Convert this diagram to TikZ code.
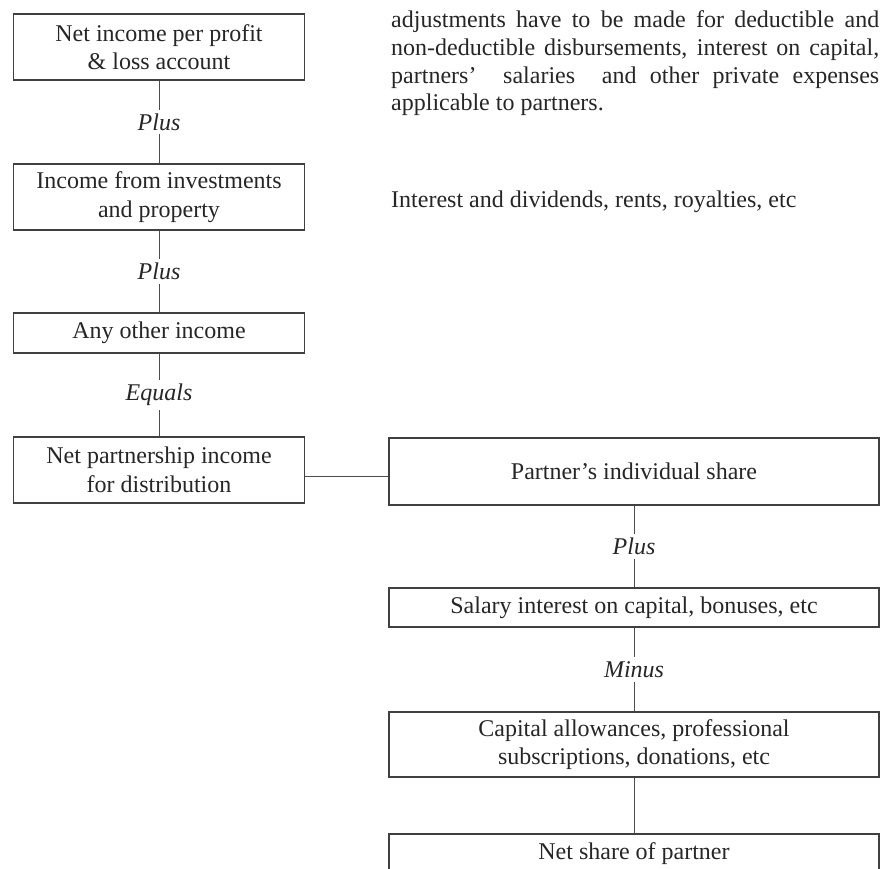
\documentclass[tikz,border=0pt]{standalone}
\usepackage{fontspec}
\setmainfont{Liberation Serif}
\usepackage{tikz}

\begin{document}
\begin{tikzpicture}[x=1pt,y=-1pt,
  box/.style={draw=black!75, line width=1.1pt, align=center, inner sep=0pt,
    text=black!85, font=\fontsize{24}{28.5}\selectfont},
  lbox/.style={box, minimum width=291pt},
  rbox/.style={box, minimum width=490pt},
  link/.style={draw=black!70, line width=1pt},
  op/.style={fill=white, inner sep=4pt, text=black!85,
    font=\fontsize{24}{28}\selectfont\itshape},
  note/.style={inner sep=0pt, text=black!85, font=\fontsize{24}{27.7}\selectfont}]

  \useasboundingbox (0,0) rectangle (880,868);
  \clip (0,0) rectangle (880,868);

  \node[lbox, minimum height=66pt] (netinc) at (159,47) {Net income per profit\\ \& loss account};
  \node[lbox, minimum height=66pt] (invest) at (159,197) {Income from investments\\ and property};
  \node[lbox, minimum height=40pt] (other) at (159,333) {Any other income};
  \node[lbox, minimum height=66pt] (netpart) at (159,470) {Net partnership income\\ for distribution};

  \node[rbox, minimum height=67pt] (share) at (634,471.5) {Partner's individual share};
  \node[rbox, minimum height=39pt] (salary) at (634,607.5) {Salary interest on capital, bonuses, etc};
  \node[rbox, minimum height=65pt] (allow) at (634,744.5) {Capital allowances, professional\\ subscriptions, donations, etc};
  \node[rbox, minimum height=40pt] (netshare) at (634,854) {Net share of partner};

  \node[note, text width=488pt, align=justify, anchor=north west] (adjust) at (391,10.5)
    {adjustments have to be made for deductible and\linebreak
     non-deductible disbursements, interest on capital,\linebreak
     partners'\ \ salaries\ \ and other private expenses\linebreak
     applicable to partners.};
  \node[note, anchor=base west] (incnote) at (391,207) {Interest and dividends, rents, royalties, etc};

  \draw[link] (netinc) -- node[op] {Plus} (invest);
  \draw[link] (invest) -- node[op] {Plus} (other);
  \draw[link] (other) -- node[op] {Equals} (netpart);
  \draw[link] ([yshift=-6pt]netpart.east) -- ([yshift=-6pt]netpart.east -| share.west);
  \draw[link] (share) -- node[op] {Plus} (salary);
  \draw[link] (salary) -- node[op] {Minus} (allow);
  \draw[link] (allow) -- (netshare);

\end{tikzpicture}
\end{document}
